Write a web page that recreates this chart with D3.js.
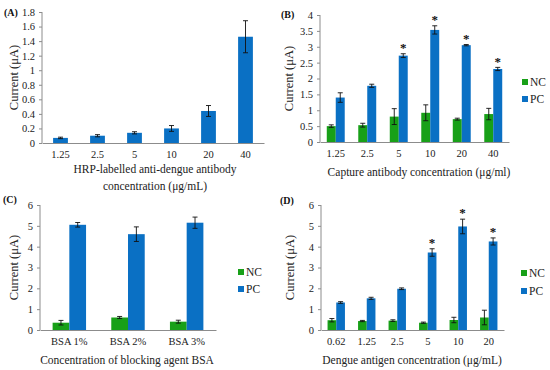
<!DOCTYPE html>
<html><head><meta charset="utf-8">
<script src="https://cdn.jsdelivr.net/npm/d3@7"></script>
<style>
html,body{margin:0;padding:0;background:#fff;}
svg, svg text{font-family:"Liberation Serif","DejaVu Serif",serif !important;}
</style></head>
<body>
<svg id="chart" width="550" height="370"></svg>
<script>
// Panel A
const catsA = ["1.25","2.5","5","10","20","40"];
const valsA = [0.07,0.10,0.14,0.20,0.44,1.46];
const errA  = [0.01,0.015,0.015,0.04,0.075,0.22];
const ticksA = [0,0.2,0.4,0.6,0.8,1,1.2,1.4,1.6,1.8];
// Panel B
const catsB = ["1.25","2.5","5","10","20","40"];
const ncB = [0.50,0.53,0.80,0.92,0.72,0.88];
const ncErrB = [0.04,0.06,0.25,0.25,0.03,0.18];
const pcB = [1.40,1.77,2.72,3.53,3.05,2.30];
const pcErrB = [0.15,0.05,0.06,0.13,0.02,0.05];
const starB = [false,false,true,true,true,true];
const ticksB = [0,0.5,1,1.5,2,2.5,3,3.5,4];
// Panel C
const catsC = ["BSA 1%","BSA 2%","BSA 3%"];
const ncC = [0.35,0.60,0.40];
const ncErrC = [0.11,0.05,0.07];
const pcC = [5.05,4.60,5.15];
const pcErrC = [0.11,0.35,0.27];
const starC = [false,false,false];
const ticksC = [0,1,2,3,4,5,6];
// Panel D
const catsD = ["0.62","1.25","2.5","5","10","20"];
const ncD = [0.47,0.43,0.45,0.35,0.48,0.60];
const ncErrD = [0.08,0.03,0.04,0.03,0.13,0.35];
const pcD = [1.32,1.52,1.98,3.72,4.97,4.25];
const pcErrD = [0.04,0.05,0.04,0.18,0.35,0.17];
const starD = [false,false,false,true,true,true];
const ticksD = [0,1,2,3,4,5,6];

const GREEN = "#18a018", BLUE = "#0a70c4", AXIS = "#8c8c8c";
const svg = d3.select("#chart");

function panel(o){
  const g = svg.append("g");
  const x = d3.scaleBand().domain(o.cats).range([o.x0,o.x1]);
  const y = d3.scaleLinear().domain([0,o.ymax]).range([o.y0,o.y1]);
  // y axis
  const ya = g.append("g").attr("transform",`translate(${o.x0},0)`)
    .call(d3.axisLeft(y).tickValues(o.ticks).tickSize(3).tickPadding(4).tickFormat(d=>d3.format("~g")(d)));
  ya.attr("font-family",null).attr("font-size",null);
  ya.selectAll("path,line").attr("stroke",AXIS);
  ya.selectAll("text").attr("font-size",10.5).attr("fill","#222");
  ya.select(".domain").attr("d",`M0,${o.y0}V${o.y1}`);
  // x axis
  const xa = g.append("g").attr("transform",`translate(0,${o.y0})`)
    .call(d3.axisBottom(x).tickSize(0).tickPadding(8));
  xa.attr("font-family",null).attr("font-size",null);
  xa.selectAll("path").attr("stroke",AXIS);
  xa.selectAll("text").attr("font-size",10.5).attr("fill","#222");
  const series = o.series;
  const gw = x.bandwidth()*o.groupFrac;
  const bw = gw/series.length;
  series.forEach((s,si)=>{
    const xs = c => x(c) + (x.bandwidth()-gw)/2 + si*bw;
    g.selectAll(null).data(o.cats).enter().append("rect")
      .attr("x",c=>xs(c)).attr("width",bw)
      .attr("y",(c,i)=>y(s.vals[i])).attr("height",(c,i)=>y(0)-y(s.vals[i]))
      .attr("fill",s.color);
    o.cats.forEach((c,i)=>{
      const cx = xs(c)+bw/2, top=y(s.vals[i]+s.err[i]), bot=y(s.vals[i]-s.err[i]);
      g.append("path").attr("d",`M${cx},${top}V${bot}M${cx-2.5},${top}H${cx+2.5}M${cx-2.5},${bot}H${cx+2.5}`)
        .attr("stroke","#111").attr("stroke-width",0.9).attr("fill","none");
      if(s.star && s.star[i]){
        g.append("text").attr("x",cx).attr("y",top-2).attr("text-anchor","middle")
          .attr("font-size",13).attr("font-weight","bold").attr("fill","#111").text("*").attr("dy","0.55em").attr("transform",`translate(0,-7)`);
      }
    });
  });
  // y label
  g.append("text").attr("transform",`translate(${o.ylabX},${(o.y0+o.y1)/2}) rotate(-90)`)
    .attr("text-anchor","middle").attr("dy","0.35em").attr("font-size",12.5).attr("fill","#222").text("Current (μA)");
  // panel letter
  g.append("text").attr("x",o.letX).attr("y",o.letY).attr("font-size",10).attr("font-weight","bold").attr("fill","#111").text(o.letter);
  // title
  o.title.forEach((t,k)=>{
    g.append("text").attr("x",o.titleX).attr("y",o.titleY+k*17).attr("text-anchor","middle")
      .attr("font-size",11.5).attr("fill","#222").text(t);
  });
  // legend
  if(o.legend){
    series.forEach((s,si)=>{
      const ly = o.legend.y + si*o.legend.gap;
      g.append("rect").attr("x",o.legend.x).attr("y",ly-3).attr("width",6).attr("height",6).attr("fill",s.color);
      g.append("text").attr("x",o.legend.x+8).attr("y",ly).attr("dy","0.35em").attr("font-size",11.5).attr("fill","#222").text(s.name);
    });
  }
}

panel({cats:catsA,ymax:1.8,ticks:ticksA,x0:42,x1:264,y0:143,y1:12,groupFrac:0.4,
  series:[{name:"A",vals:valsA,err:errA,color:BLUE}],
  ylabX:14,letter:"(A)",letX:4,letY:16,title:["HRP-labelled anti-dengue antibody","concentration (μg/mL)"],titleX:155,titleY:173});

panel({cats:catsB,ymax:4,ticks:ticksB,x0:320,x1:509,y0:142,y1:15,groupFrac:0.57,
  series:[{name:"NC",vals:ncB,err:ncErrB,color:GREEN},{name:"PC",vals:pcB,err:pcErrB,color:BLUE,star:starB}],
  ylabX:289,letter:"(B)",letX:281,letY:18,title:["Capture antibody concentration (μg/ml)"],titleX:419,titleY:176,
  legend:{x:522,y:82,gap:17}});

panel({cats:catsC,ymax:6,ticks:ticksC,x0:40,x1:216,y0:330,y1:205,groupFrac:0.57,
  series:[{name:"NC",vals:ncC,err:ncErrC,color:GREEN},{name:"PC",vals:pcC,err:pcErrC,color:BLUE,star:starC}],
  ylabX:14,letter:"(C)",letX:3,letY:203,title:["Concentration of blocking agent BSA"],titleX:127,titleY:364,
  legend:{x:238,y:272,gap:17}});

panel({cats:catsD,ymax:6,ticks:ticksD,x0:321,x1:504,y0:330,y1:205,groupFrac:0.57,
  series:[{name:"NC",vals:ncD,err:ncErrD,color:GREEN},{name:"PC",vals:pcD,err:pcErrD,color:BLUE,star:starD}],
  ylabX:290,letter:"(D)",letX:280,letY:204,title:["Dengue antigen concentration (μg/mL)"],titleX:412,titleY:364,
  legend:{x:521,y:273,gap:18}});
</script>
</body></html>
